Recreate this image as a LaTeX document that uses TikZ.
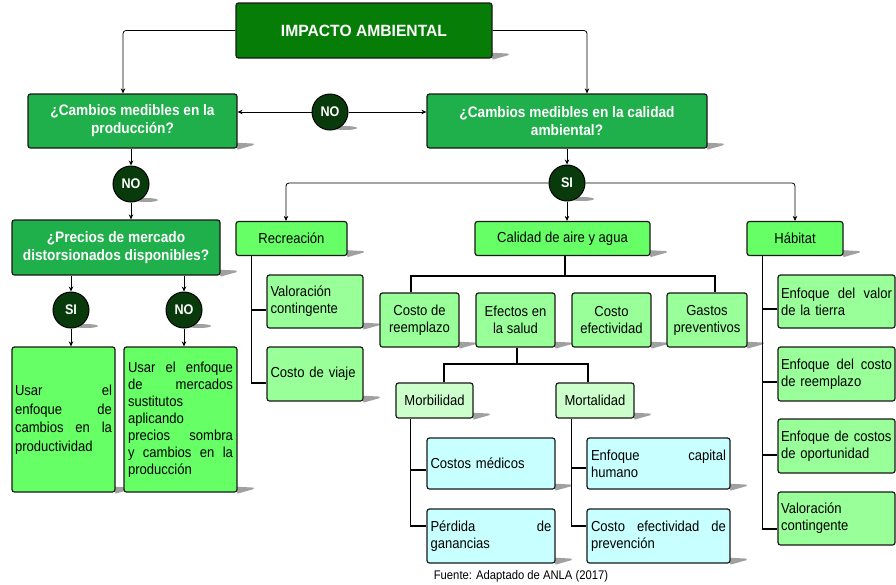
\documentclass[tikz,border=0pt]{standalone}
\usepackage{fontspec}
\setmainfont{Liberation Sans}[FakeStretch=0.9]
\newfontfamily\ttlfont{Liberation Sans}[FakeStretch=0.96]
\usetikzlibrary{arrows.meta,backgrounds}

\definecolor{dkgreen}{HTML}{067D06}
\definecolor{qgreen}{HTML}{1FAF4B}
\definecolor{lgreen}{HTML}{66FF66}
\definecolor{mgreen}{HTML}{99FF99}
\definecolor{pgreen}{HTML}{CCFFCC}
\definecolor{lcyan}{HTML}{C8FFFF}
\definecolor{cdark}{HTML}{083A0B}
\definecolor{shdcol}{HTML}{A0A0A0}

\newcommand\jl[2]{\leavevmode\hbox to #1{#2}}
\newcommand\rshd[1]{\fill[shdcol] ([xshift=-2pt,yshift=6pt]#1.south east) -- ([xshift=16pt,yshift=5pt]#1.south east) -- ([xshift=16pt,yshift=3.5pt]#1.south east) -- ([xshift=0pt,yshift=-1pt]#1.south east) -- cycle;}
\newcommand\cshd[1]{\fill[shdcol] ([xshift=15pt,yshift=2.5pt]#1.south) ellipse (12pt and 2pt);}

\tikzset{
  bx/.style={draw=black!90, line width=1.2pt, rounded corners=2.5pt, inner sep=0pt,
    font=\fontsize{14.5}{17}\selectfont},
  ttl/.style={bx, fill=dkgreen, text=white, font=\ttlfont\bfseries\fontsize{16.3}{19}\selectfont},
  qbx/.style={bx, fill=qgreen, text=white, align=center, font=\bfseries\fontsize{15.2}{18}\selectfont},
  circ/.style={circle, draw=black, line width=1pt, fill=cdark, text=white, minimum size=36pt, inner sep=0pt,
    font=\bfseries\fontsize{14}{16}\selectfont},
  gbx/.style={bx, fill=lgreen},
  mbx/.style={bx, fill=mgreen},
  pbx/.style={bx, fill=pgreen},
  cbx/.style={bx, fill=lcyan},
  conn/.style={draw=black, line width=0.8pt, -{Stealth[length=5pt,width=4.5pt]}, rounded corners=3pt},
  trl/.style={draw=black, line width=1.8pt},
}

\begin{document}
\begin{tikzpicture}[x=1pt,y=-1pt]
\useasboundingbox (0,0) rectangle (896,584);

% top level
\node[ttl, minimum width=256pt, minimum height=55pt] (imp) at (364,30.5) {IMPACTO AMBIENTAL};
\node[qbx, minimum width=209pt, minimum height=54pt] (q1) at (132.5,121) {¿Cambios medibles en la\\producción?};
\node[qbx, minimum width=280pt, minimum height=54pt] (q2) at (567,121) {¿Cambios medibles en la calidad\\ambiental?};
\node[circ] (no1) at (330,112) {NO};
\node[circ] (no2) at (131,184) {NO};
\node[qbx, minimum width=208pt, minimum height=55pt] (q3) at (116,247.5) {¿Precios de mercado\\distorsionados disponibles?};
\node[circ] (si1) at (71,310) {SI};
\node[circ] (no3) at (184,310) {NO};
\node[circ] (si2) at (567,183) {SI};

% left results
\node[gbx, minimum width=103pt, minimum height=145pt, text width=97pt, align=left,
  font=\fontsize{14.5}{18.5}\selectfont] (u1) at (63.5,419.5)
  {\jl{97pt}{Usar\hfill el}\\\jl{97pt}{enfoque\hfill de}\\\jl{97pt}{cambios\hfill en\hfill la}\\productividad};
\node[gbx, minimum width=113pt, minimum height=145pt, text width=105pt, align=left,
  font=\fontsize{14.5}{17}\selectfont] (u2) at (180.5,419.5)
  {\jl{105pt}{Usar\hfill el\hfill enfoque}\\\jl{105pt}{de\hfill mercados}\\sustitutos\\aplicando\\\jl{105pt}{precios\hfill sombra}\\\jl{105pt}{y\hfill cambios\hfill en\hfill la}\\producción};

% second level
\node[gbx, minimum width=111pt, minimum height=34pt] (rec) at (291.5,238.5) {Recreación};
\node[gbx, minimum width=175pt, minimum height=34pt] (cal) at (562.5,238.5) {Calidad de aire y agua};
\node[gbx, minimum width=96pt, minimum height=34pt] (hab) at (795,238.5) {Hábitat};

% recreacion children
\node[mbx, minimum width=96pt, minimum height=53pt, text width=89pt, align=left] (vc) at (315,301.5) {Valoración\\contingente};
\node[mbx, minimum width=96pt, minimum height=54pt, text width=89pt, align=left] (cv) at (315,374) {Costo de viaje};

% calidad children
\node[mbx, minimum width=79pt, minimum height=54pt, align=center] (cr) at (419.5,320) {Costo de\\reemplazo};
\node[mbx, minimum width=79pt, minimum height=54pt, align=center] (es) at (515.5,320) {Efectos en\\la salud};
\node[mbx, minimum width=79pt, minimum height=54pt, align=center] (ce) at (611.5,320) {Costo\\efectividad};
\node[mbx, minimum width=80pt, minimum height=54pt, align=center] (gp) at (707,320) {Gastos\\preventivos};

% habitat children
\node[mbx, minimum width=117pt, minimum height=53pt, text width=111pt, align=left] (h1) at (836.5,301.5) {\jl{111pt}{Enfoque\hfill del\hfill valor}\\de la tierra};
\node[mbx, minimum width=117pt, minimum height=54pt, text width=111pt, align=left] (h2) at (836.5,374) {\jl{111pt}{Enfoque\hfill del\hfill costo}\\de reemplazo};
\node[mbx, minimum width=117pt, minimum height=54pt, text width=111pt, align=left] (h3) at (836.5,446) {Enfoque de costos\\de oportunidad};
\node[mbx, minimum width=117pt, minimum height=53pt, text width=111pt, align=left] (h4) at (836.5,518.5) {Valoración\\contingente};

% salud children
\node[pbx, minimum width=77pt, minimum height=35pt] (mb) at (434.5,400.5) {Morbilidad};
\node[pbx, minimum width=78pt, minimum height=35pt] (mt) at (595,400.5) {Mortalidad};
\node[cbx, minimum width=128pt, minimum height=51pt, text width=121pt, align=left] (cm) at (491,463.5) {Costos médicos};
\node[cbx, minimum width=128pt, minimum height=54pt, text width=121pt, align=left] (pg) at (491,536) {\jl{121pt}{Pérdida\hfill de}\\ganancias};
\node[cbx, minimum width=143pt, minimum height=51pt, text width=135pt, align=left] (ec) at (658.5,463.5) {\jl{135pt}{Enfoque\hfill capital}\\humano};
\node[cbx, minimum width=143pt, minimum height=54pt, text width=135pt, align=left] (cep) at (658.5,536) {\jl{135pt}{Costo\hfill efectividad\hfill de}\\prevención};

\node[font=\fontsize{12.5}{14}\selectfont, inner sep=0pt] (src) at (521,576) {Fuente: Adaptado de ANLA (2017)};

% arrows (top part)
\draw[conn] (imp.west) -| ([xshift=-9.5pt]q1.north);
\draw[conn] (imp.east) -| ([xshift=20pt]q2.north);
\draw[conn] (no1.west) -- (no1.west -| q1.east);
\draw[conn] (no1.east) -- (no1.east -| q2.west);
\draw[conn] (q1.south -| no2) -- (no2.north);
\draw[conn] (no2.south) -- (no2.south |- q3.north);
\draw[conn] (q3.south -| si1) -- (si1.north);
\draw[conn] (q3.south -| no3) -- (no3.north);
\draw[conn] (si1.south) -- (si1.south |- u1.north);
\draw[conn] (no3.south) -- (no3.south |- u2.north);
\draw[conn] (q2.south -| si2) -- (si2.north);
\draw[conn] (si2.south) -- (si2.south |- cal.north);
\draw[conn] (si2.west) -| ([xshift=-5.5pt]rec.north);
\draw[conn] (si2.east) -| (hab.north);

% tree lines
\draw[trl] ([xshift=16pt]rec.south west) |- ([yshift=-9pt]cv.west);
\draw[trl] ([yshift=-8.5pt]vc.west) -- ++(-15pt,0);

\coordinate (cb) at ([xshift=2.5pt,yshift=-20pt]cal.south);
\draw[trl] ([xshift=2.5pt]cal.south) -- (cb);
\draw[trl] ([xshift=-8.5pt]cr.north) |- (cb) -| ([xshift=8pt]gp.north);

\coordinate (eb) at ([xshift=1.5pt,yshift=-16pt]es.south);
\draw[trl] ([xshift=1.5pt]es.south) -- (eb);
\draw[trl] ([xshift=9.5pt]mb.north) |- (eb) -| ([xshift=-7pt]mt.north);

\draw[trl] ([xshift=15pt]mb.south west) |- ([yshift=10pt]pg.west);
\draw[trl] ([yshift=-6.5pt]cm.west) -- ++(-16pt,0);
\draw[trl] ([xshift=16pt]mt.south west) |- ([yshift=10pt]cep.west);
\draw[trl] ([yshift=-4.5pt]ec.west) -- ++(-15pt,0);

\draw[trl] ([xshift=16pt]hab.south west) |- ([yshift=-10.5pt]h4.west);
\draw[trl] ([yshift=-7.5pt]h1.west) -- ++(-15pt,0);
\draw[trl] ([yshift=-8pt]h2.west) -- ++(-15pt,0);
\draw[trl] ([yshift=-9pt]h3.west) -- ++(-15pt,0);

% background and shadows
\begin{scope}[on background layer]
\fill[white] (0,0) rectangle (896,584);
\rshd{imp}\rshd{q1}\rshd{q2}\rshd{q3}\rshd{u1}\rshd{u2}
\rshd{rec}\rshd{cal}\rshd{hab}\rshd{vc}\rshd{cv}
\rshd{cr}\rshd{es}\rshd{ce}\rshd{gp}
\rshd{mb}\rshd{mt}\rshd{cm}\rshd{pg}\rshd{ec}\rshd{cep}
\cshd{no1}\cshd{no2}\cshd{si1}\cshd{no3}\cshd{si2}
\end{scope}
\end{tikzpicture}
\end{document}
